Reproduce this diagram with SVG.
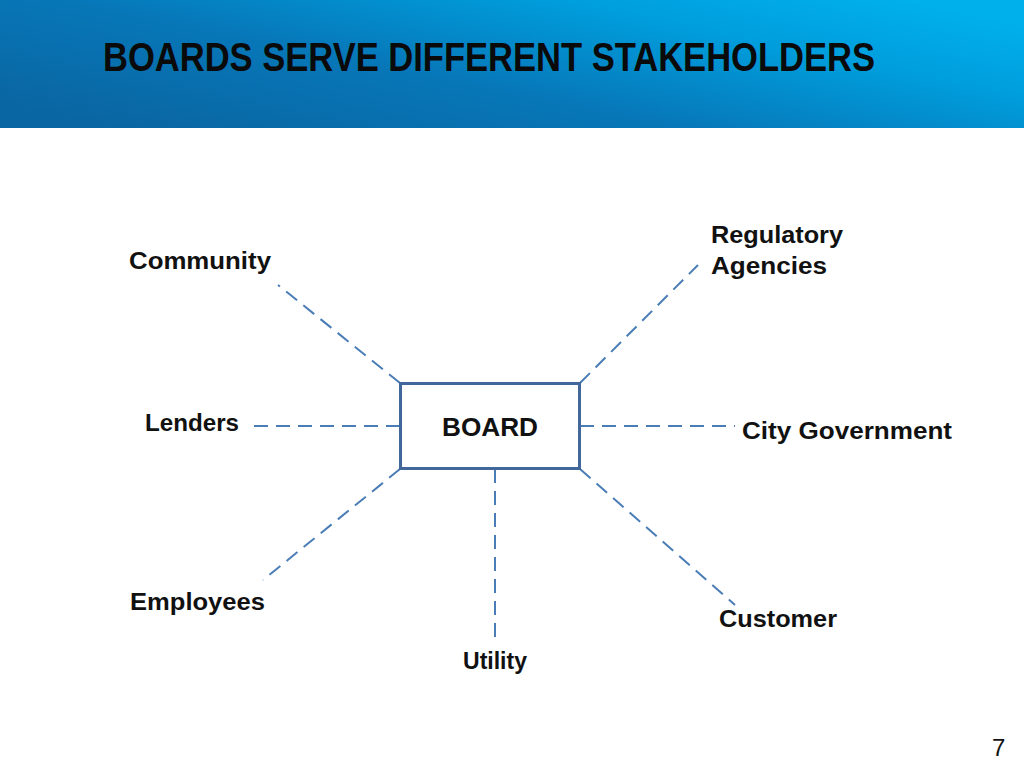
<svg xmlns="http://www.w3.org/2000/svg" width="1024" height="768" viewBox="0 0 1024 768">
  <defs>
    <linearGradient id="hdr" x1="0" y1="0.8" x2="1" y2="0.2">
      <stop offset="0" stop-color="#0a66a2"/>
      <stop offset="0.4" stop-color="#0777b8"/>
      <stop offset="0.75" stop-color="#009ddc"/>
      <stop offset="1" stop-color="#00b0ea"/>
    </linearGradient>
    <style>
      .lbl { font-family: "Liberation Sans", Arial, sans-serif; font-weight: bold; font-size: 23px; fill: #111; }
      .conn { stroke: #4a7db6; stroke-width: 2; stroke-dasharray: 14 8; fill: none; }
    </style>
  </defs>
  <rect x="0" y="0" width="1024" height="768" fill="#ffffff"/>
  <g id="header">
    <rect x="0" y="0" width="1024" height="128" fill="url(#hdr)"/>
    <text x="103" y="71" font-family="Liberation Sans, Arial, sans-serif" font-weight="bold" font-size="41" fill="#0a0a0a" textLength="772" lengthAdjust="spacingAndGlyphs">BOARDS SERVE DIFFERENT STAKEHOLDERS</text>
  </g>
  <g id="connectors">
    <line class="conn" x1="400" y1="383" x2="278" y2="285"/>
    <line class="conn" x1="580" y1="383" x2="698" y2="265"/>
    <line class="conn" x1="400" y1="426" x2="247" y2="426"/>
    <line class="conn" x1="580" y1="426" x2="735" y2="426"/>
    <line class="conn" x1="400" y1="469" x2="263" y2="580"/>
    <line class="conn" x1="495" y1="469" x2="495" y2="640"/>
    <line class="conn" x1="580" y1="469" x2="735" y2="605"/>
  </g>
  <g id="board">
    <rect x="400.5" y="383.5" width="179" height="85" fill="#ffffff" stroke="#41679b" stroke-width="3"/>
    <text x="442" y="436" font-family="Liberation Sans, Arial, sans-serif" font-weight="bold" font-size="26" fill="#111" textLength="96" lengthAdjust="spacingAndGlyphs">BOARD</text>
  </g>
  <g id="community"><text class="lbl" x="129" y="269" textLength="142" lengthAdjust="spacingAndGlyphs">Community</text></g>
  <g id="regulatory">
    <text class="lbl" x="711" y="243" textLength="132" lengthAdjust="spacingAndGlyphs">Regulatory</text>
    <text class="lbl" x="711" y="274" textLength="116" lengthAdjust="spacingAndGlyphs">Agencies</text>
  </g>
  <g id="lenders"><text class="lbl" x="145" y="431" textLength="94" lengthAdjust="spacingAndGlyphs">Lenders</text></g>
  <g id="city"><text class="lbl" x="742" y="439" textLength="210" lengthAdjust="spacingAndGlyphs">City Government</text></g>
  <g id="employees"><text class="lbl" x="130" y="610" textLength="135" lengthAdjust="spacingAndGlyphs">Employees</text></g>
  <g id="customer"><text class="lbl" x="719" y="627" textLength="118" lengthAdjust="spacingAndGlyphs">Customer</text></g>
  <g id="utility"><text class="lbl" x="463" y="669" textLength="64" lengthAdjust="spacingAndGlyphs">Utility</text></g>
  <text x="992" y="756" font-family="Liberation Sans, Arial, sans-serif" font-size="24" fill="#111">7</text>
</svg>
